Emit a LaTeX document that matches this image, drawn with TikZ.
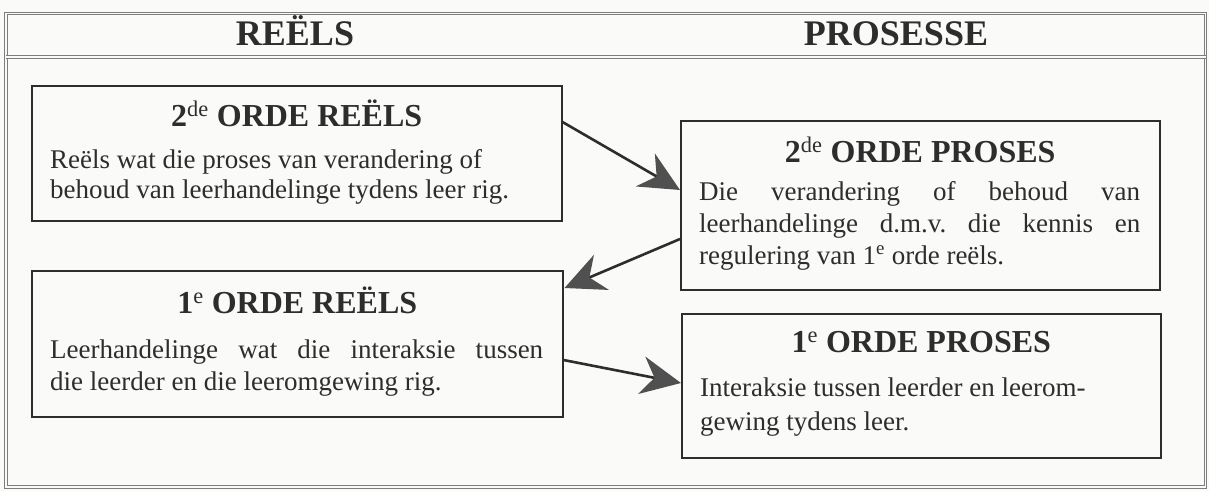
\documentclass[tikz,border=0pt]{standalone}
\usepackage{fontspec}
\setmainfont{Liberation Serif}
\usetikzlibrary{arrows.meta,calc}
\definecolor{paper}{RGB}{250,250,248}
\definecolor{ink}{RGB}{45,45,45}
\definecolor{framegray}{RGB}{125,125,125}
\definecolor{headgray}{RGB}{80,80,80}
\newcommand{\bodyfont}[1]{\fontsize{27}{#1}\selectfont\frenchspacing}

\begin{document}
\begin{tikzpicture}[x=1pt,y=-1pt,
  box/.style={draw=ink, line width=1.5pt, rectangle, inner sep=0pt, anchor=north west},
  frame/.style={draw=framegray, line width=0.9pt, double=paper, double distance=1.6pt},
  hdr/.style={anchor=base, inner sep=0pt, text=ink, font=\fontsize{36}{40}\selectfont\bfseries},
  ttl/.style={anchor=base, inner sep=0pt, text=ink, font=\fontsize{32}{36}\selectfont\bfseries},
  txt/.style={anchor=base west, inner sep=0pt, text=ink},
  flow/.style={draw=ink, line width=2.6pt,
    -{Stealth[length=40pt,width=38pt,inset=13pt,color=headgray]}}
]
\fill[paper] (0,0) rectangle (1209,491);
\useasboundingbox (0,0) rectangle (1209,491);

% outer frame with the header row
\node[frame, rectangle, inner sep=0pt, anchor=north west,
      minimum width=1199.5pt, minimum height=473.5pt] (frm) at (5.5,13) {};
\coordinate (hl) at ($(frm.north west)+(0,44)$);
\coordinate (hr) at ($(frm.north east)+(0,44)$);
\draw[frame] (hl) -- (hr);
\node[hdr] (hR) at (295,45) {REËLS};
\node[hdr] (hP) at (896,45) {PROSESSE};

% the four boxes
\node[box, minimum width=530pt, minimum height=135pt] (r2) at (31,85) {};
\node[box, minimum width=531pt, minimum height=146pt] (r1) at (31,270) {};
\node[box, minimum width=479pt, minimum height=169pt] (p2) at (680,120) {};
\node[box, minimum width=479pt, minimum height=144pt] (p1) at (681,313) {};

% box titles
\node[ttl] (r2t) at ($(r2.north)+(0,41)$) {2\textsuperscript{\mdseries de} ORDE REËLS};
\node[ttl] (r1t) at ($(r1.north)+(0,43)$) {1\textsuperscript{\mdseries e} ORDE REËLS};
\node[ttl] (p2t) at ($(p2.north)+(0,42)$) {2\textsuperscript{\mdseries de} ORDE PROSES};
\node[ttl] (p1t) at ($(p1.north)+(0,39)$) {1\textsuperscript{\mdseries e} ORDE PROSES};

% box texts
\node[txt] (r2b) at ($(r2.north west)+(19,83)$) {\parbox[t]{493pt}{\bodyfont{30}%
  Reëls wat die proses van verandering of\\
  behoud van leerhandelinge tydens leer rig.}};
\node[txt] (r1b) at ($(r1.north west)+(19,88)$) {\parbox[t]{493pt}{\bodyfont{32}%
  \makebox[\linewidth][s]{Leerhandelinge wat die interaksie tussen}\\
  die leerder en die leeromgewing rig.}};
\node[txt] (p2b) at ($(p2.north west)+(19,80)$) {\parbox[t]{441pt}{\bodyfont{32}%
  \makebox[\linewidth][s]{Die verandering of behoud van}\\
  \makebox[\linewidth][s]{leerhandelinge d.m.v. die kennis en}\\
  regulering van 1\textsuperscript{e} orde reëls.}};
\node[txt] (p1b) at ($(p1.north west)+(19,83)$) {\parbox[t]{441pt}{\bodyfont{34}%
  Interaksie tussen leerder en leerom-\\
  gewing tydens leer.}};

% connectors
\draw[flow] ($(r2.north east)+(0,37)$) -- ($(p2.north west)+(0,70)$);
\draw[flow] ($(p2.north west)+(0,119)$) -- ($(r1.north east)+(1,18)$);
\draw[flow] ($(r1.north east)+(0,90)$) -- ($(p1.north west)+(0,70)$);
\end{tikzpicture}
\end{document}
